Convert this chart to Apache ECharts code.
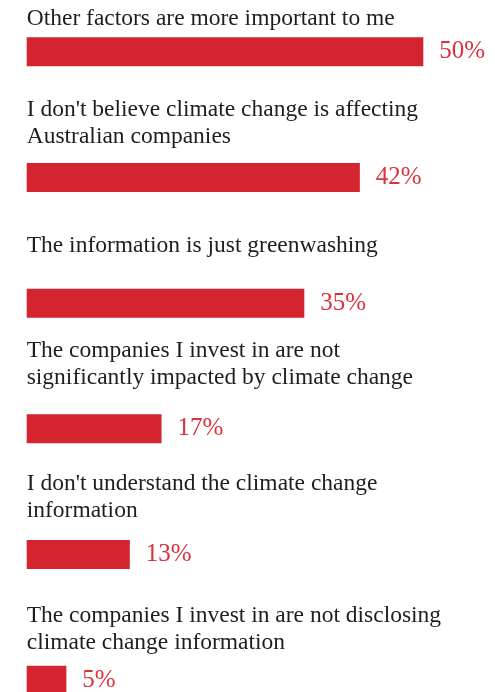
<!DOCTYPE html>
<html>
<head>
<meta charset="utf-8">
<script src="https://cdn.jsdelivr.net/npm/echarts@6/dist/echarts.min.js"></script>
<style>
  html, body { margin: 0; padding: 0; background: #ffffff; overflow: hidden; }
  body { width: 495px; height: 692px; position: relative; }
  /* the drawing area runs a little past the page edges so that each row gets a full band */
  #chart { position: absolute; left: 0; top: -11px; width: 495px; height: 754px; }
</style>
</head>
<body>
<div id="chart"></div>
<script>
// Reasons given for not using climate change information
const categories = [
  "Other factors are more important to me",
  "I don't believe climate change is affecting\nAustralian companies",
  "The information is just greenwashing",
  "The companies I invest in are not\nsignificantly impacted by climate change",
  "I don't understand the climate change\ninformation",
  "The companies I invest in are not disclosing\nclimate change information"
];
const shares = [50, 42, 35, 17, 13, 5];

// Vertical offset of each caption's centre above the top of its bar (px)
const captionOffsets = [-19, -40, -43, -50, -43, -36];

const BAR_COLOR = '#d3242f';
const VALUE_COLOR = '#d8323d';
const TEXT_COLOR = '#1e1e1e';
const FONT = '"Liberation Serif", "DejaVu Serif", serif';

const chart = echarts.init(document.getElementById('chart'), null, { renderer: 'canvas' });

chart.setOption({
  animation: false,
  backgroundColor: '#ffffff',
  grid: { left: 26.7, right: 71.7, top: 0, bottom: 0, containLabel: false },
  xAxis: {
    type: 'value', min: 0, max: 50,
    show: false
  },
  yAxis: {
    type: 'category', data: categories, inverse: true,
    show: false
  },
  series: [
    {
      name: 'share',
      type: 'bar',
      data: shares,
      barWidth: 29,
      silent: true,
      itemStyle: { color: BAR_COLOR },
      label: {
        show: true,
        position: 'right',
        distance: 16,
        formatter: p => p.value + '%',
        color: VALUE_COLOR,
        fontFamily: FONT,
        fontSize: 25
      }
    },
    {
      name: 'caption',
      type: 'bar',
      data: shares.map((v, i) => ({
        value: v,
        label: { position: [0, captionOffsets[i]] }
      })),
      barWidth: 29,
      barGap: '-100%',
      silent: true,
      itemStyle: { color: 'rgba(0,0,0,0)' },
      label: {
        show: true,
        align: 'left',
        verticalAlign: 'middle',
        formatter: p => categories[p.dataIndex],
        color: TEXT_COLOR,
        fontFamily: FONT,
        fontSize: 23.5,
        lineHeight: 27
      }
    }
  ]
});
</script>
</body>
</html>
